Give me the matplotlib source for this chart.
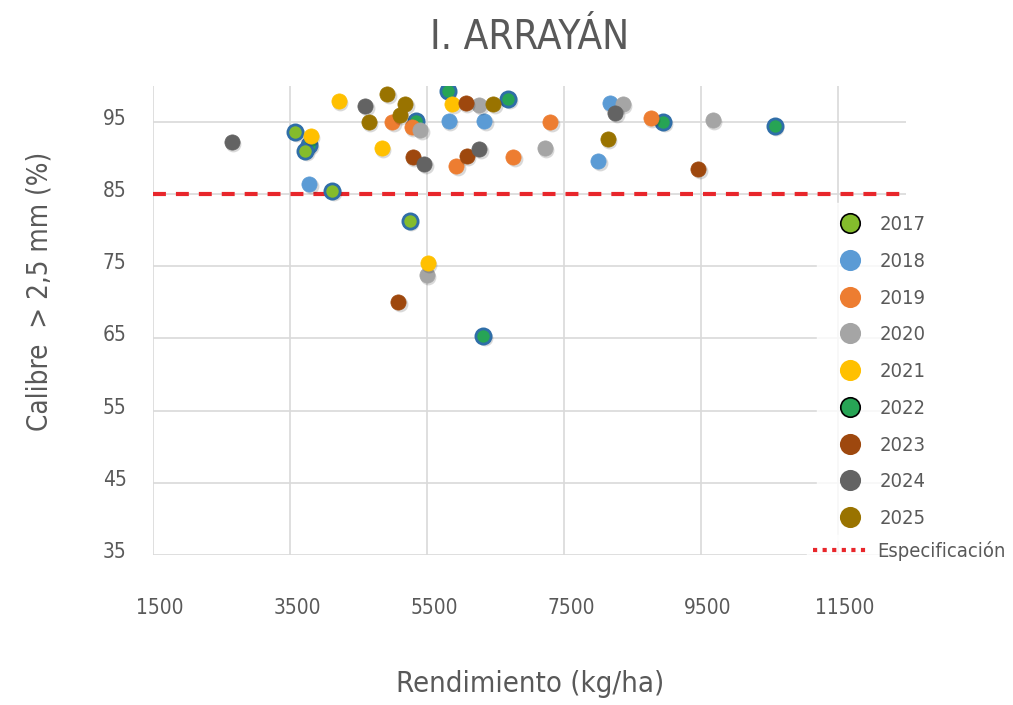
import matplotlib
matplotlib.use("Agg")
import matplotlib.pyplot as plt
import matplotlib.transforms as mtransforms
from matplotlib.lines import Line2D

plt.rcParams['font.family'] = ['DejaVu Sans']
plt.rcParams['font.stretch'] = 'condensed'

# datos: rendimiento (kg/ha) y calibre > 2,5 mm (%)
years = ['2017', '2018', '2019', '2020', '2021', '2022', '2023', '2024', '2025']
rend = {
    '2017': [3580, 3720, 4120, 5250],
    '2018': [3780, 5820, 6340, 8170, 8000],
    '2019': [4990, 5280, 7300, 6760, 5930, 8770],
    '2020': [5400, 6260, 7220, 8360, 9670, 5500],
    '2021': [3800, 4210, 4840, 5870, 5510],
    '2022': [3780, 5340, 5800, 6690, 8950, 10580, 6320],
    '2023': [5290, 6070, 6080, 9460, 5080],
    '2024': [2650, 4600, 5460, 6260, 8250],
    '2025': [4920, 5180, 5100, 4650, 6470, 8140],
}
calibre = {
    '2017': [93.6, 91.0, 85.4, 81.2],
    '2018': [86.4, 95.1, 95.1, 97.6, 89.5],
    '2019': [95.0, 94.3, 95.0, 90.1, 88.8, 95.5],
    '2020': [93.9, 97.3, 91.4, 97.4, 95.3, 73.8],
    '2021': [93.0, 97.9, 91.4, 97.4, 75.5],
    '2022': [91.8, 95.1, 99.2, 98.1, 94.9, 94.4, 65.3],
    '2023': [90.1, 97.6, 90.2, 88.5, 70.1],
    '2024': [92.2, 97.2, 89.1, 91.2, 96.2],
    '2025': [98.8, 97.4, 95.9, 95.0, 97.4, 92.6],
}
colores = {
    '2017': '#84BC2C', '2018': '#5B9BD5', '2019': '#ED7D31',
    '2020': '#A5A5A5', '2021': '#FFC000', '2022': '#27A455',
    '2023': '#9E480E', '2024': '#636363', '2025': '#997300',
}
especificacion = 85
xticks = [1500, 3500, 5500, 7500, 9500, 11500]
yticks = [35, 45, 55, 65, 75, 85, 95]

gris = '#595959'
rojo = '#E8262B'

fig = plt.figure(figsize=(10.13, 7.05), dpi=100)
ax = fig.add_axes([0.151, 0.2128, 0.7438, 0.6658])

sombra = mtransforms.offset_copy(ax.transData, fig=fig, x=1.5, y=-2, units='dots')

orden = ['2022', '2017', '2018', '2019', '2020', '2021', '2023', '2024', '2025']
for i, yr in enumerate(orden):
    ax.scatter(rend[yr], calibre[yr], s=130, color='#000000', alpha=0.15,
               linewidths=0, transform=sombra, zorder=3 + i * 0.1)
    borde = '#2F6EA8' if yr in ('2017', '2022') else colores[yr]
    ax.scatter(rend[yr], calibre[yr], s=120, color=colores[yr], edgecolors=borde,
               linewidths=2.0 if yr in ('2017', '2022') else 0.5,
               zorder=3.05 + i * 0.1)

ax.axhline(especificacion, color=rojo, lw=3, dashes=(3.1, 2.4), zorder=2)

ax.set_xlim(1500, 12500)
ax.set_ylim(35, 100)
ax.set_xticks(xticks)
ax.set_yticks(yticks)
ax.grid(True, color='#D9D9D9', lw=1.2)
ax.set_axisbelow(True)
for s in ax.spines.values():
    s.set_visible(False)
ax.tick_params(length=0, labelsize=15, colors=gris)
ax.tick_params(axis='x', pad=31)
ax.tick_params(axis='y', pad=19)

# etiquetas de los ejes un poco desplazadas, como en el original
dx = mtransforms.ScaledTranslation(7 / 100, 0, fig.dpi_scale_trans)
dy = mtransforms.ScaledTranslation(0, 5 / 100, fig.dpi_scale_trans)
for lab in ax.get_xticklabels():
    lab.set_transform(lab.get_transform() + dx)
for lab in ax.get_yticklabels():
    lab.set_transform(lab.get_transform() + dy)

ax.set_title('I. ARRAYÁN', fontsize=29, color=gris, pad=26)
ax.set_xlabel('Rendimiento (kg/ha)', fontsize=21, color=gris)
ax.xaxis.set_label_coords(0.5, -0.244)
ax.set_ylabel('Calibre  > 2,5 mm (%)', fontsize=20, color=gris)
ax.yaxis.set_label_coords(-0.132, 0.562)

handles = []
for yr in years:
    borde = 'black' if yr in ('2017', '2022') else colores[yr]
    handles.append(Line2D([], [], marker='o', ls='none', markersize=14,
                          markerfacecolor=colores[yr], markeredgecolor=borde,
                          markeredgewidth=1.2, label=yr))
leg = fig.legend(handles=handles, loc='upper left', bbox_to_anchor=(0.797, 0.726),
                 frameon=True, fontsize=14.5, labelspacing=0.88, handlelength=2.0,
                 handletextpad=0.5, borderpad=0.6)
leg.get_frame().set_facecolor('white')
leg.get_frame().set_edgecolor('white')
for t in leg.get_texts():
    t.set_color(gris)

esp = [Line2D([], [], color=rojo, lw=3, ls=(0, (1, 1.3)), label='Especificación')]
leg2 = fig.legend(handles=esp, loc='center left', bbox_to_anchor=(0.787, 0.218),
                  frameon=True, fontsize=14.5, handlelength=2.6, handletextpad=0.55,
                  borderpad=0.3)
leg2.get_frame().set_facecolor('white')
leg2.get_frame().set_edgecolor('white')
for t in leg2.get_texts():
    t.set_color(gris)

fig.savefig('out.png', dpi=100)
